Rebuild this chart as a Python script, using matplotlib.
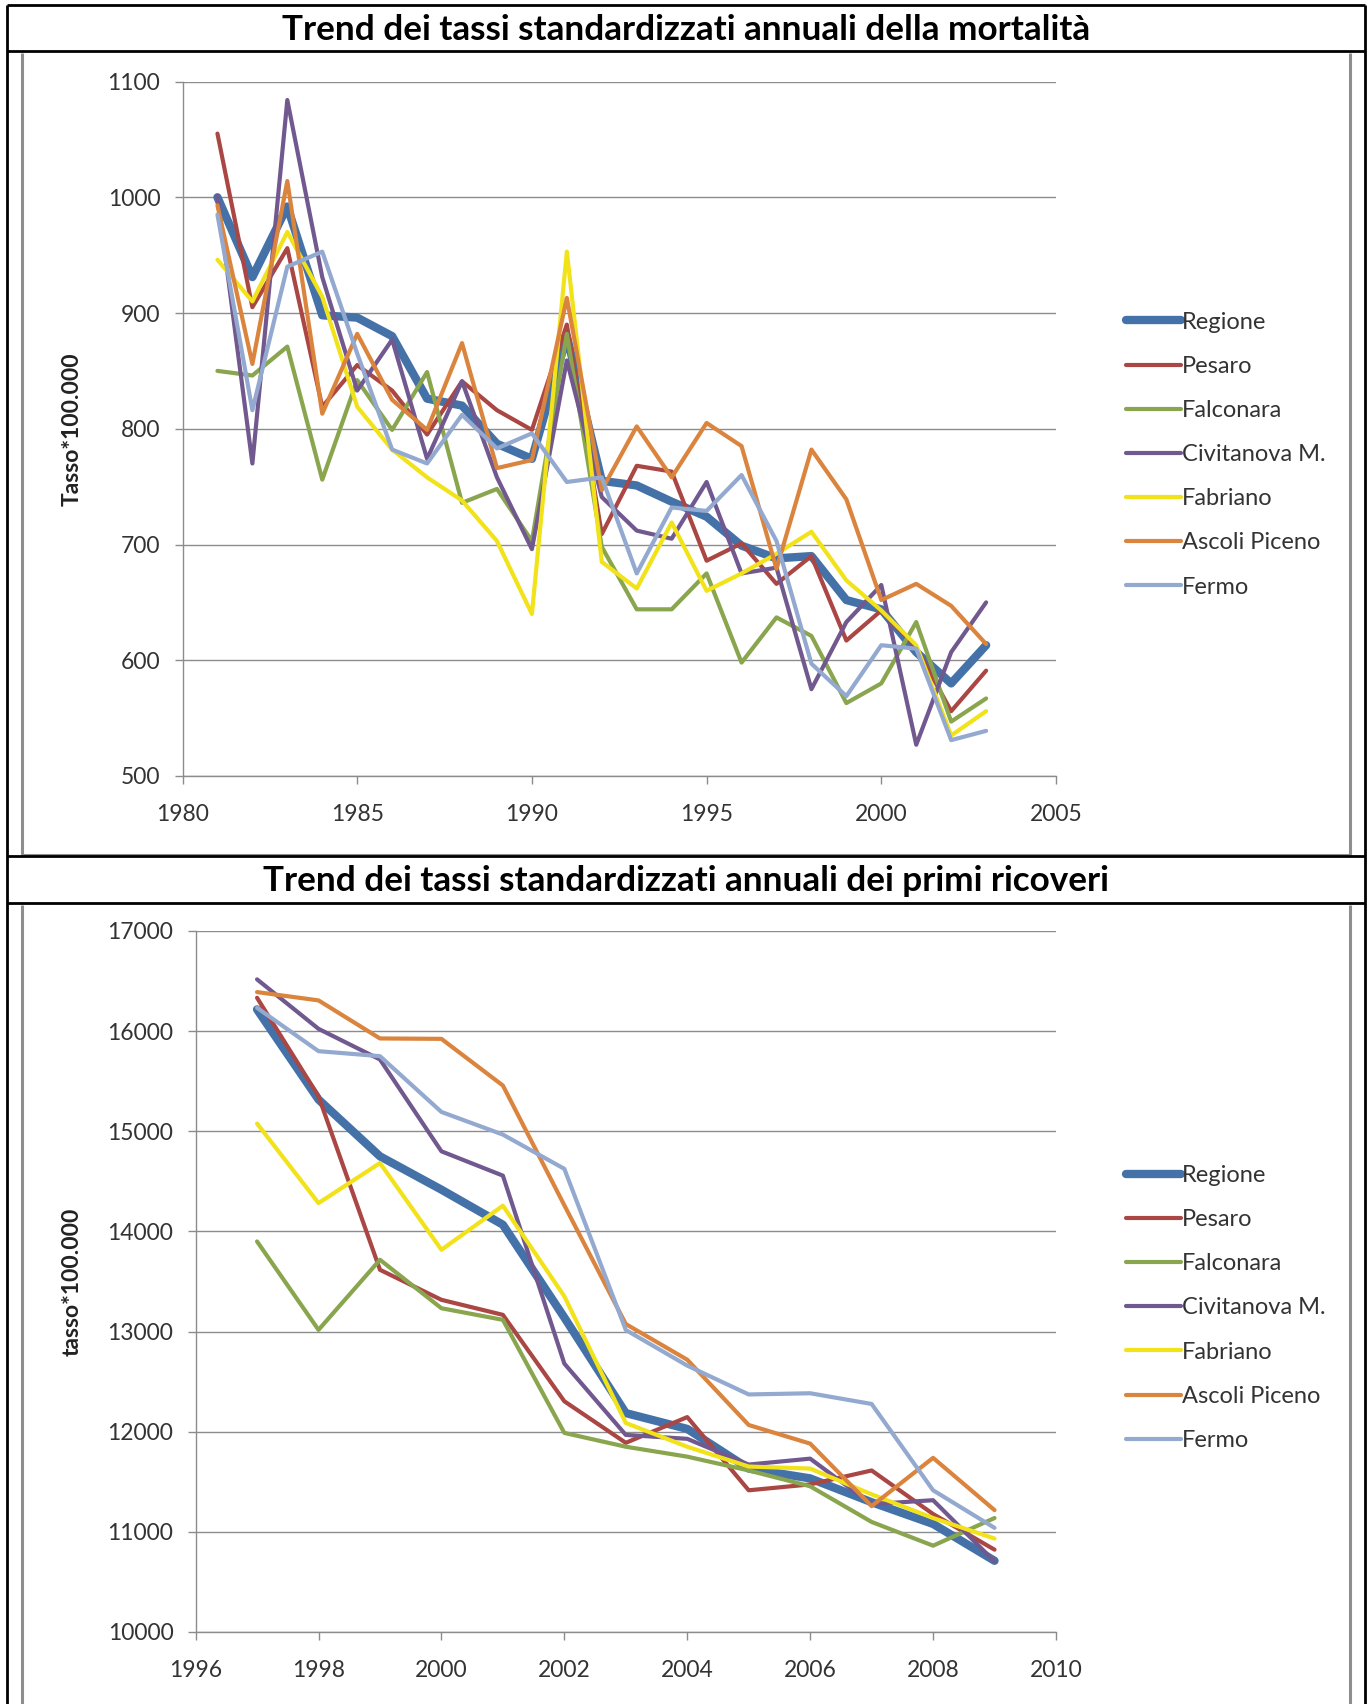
import matplotlib.pyplot as plt
from matplotlib.lines import Line2D

plt.rcParams['font.family'] = ['Lato', 'DejaVu Sans']

# serie mortalità (1981-2003)
anni_mort = list(range(1981, 2004))
regione_m = [1000, 931, 992, 898, 896, 880, 826, 820, 787, 774, 880, 755, 751, 737, 724, 699, 688, 690, 652, 644, 607, 580, 613]
pesaro_m = [1055, 905, 956, 819, 855, 833, 795, 841, 816, 799, 890, 709, 768, 763, 686, 701, 666, 690, 617, 643, 611, 556, 591]
falconara_m = [850, 846, 871, 756, 842, 799, 849, 736, 748, 703, 882, 698, 644, 644, 675, 598, 637, 621, 563, 580, 633, 547, 567]
civitanova_m = [1001, 770, 1084, 931, 833, 877, 774, 841, 758, 696, 859, 741, 712, 705, 754, 675, 680, 575, 633, 665, 527, 607, 650]
fabriano_m = [946, 910, 970, 914, 819, 782, 758, 738, 703, 640, 953, 685, 662, 719, 660, 675, 692, 711, 669, 643, 613, 535, 556]
ascoli_m = [993, 856, 1014, 813, 882, 825, 799, 874, 766, 773, 913, 747, 802, 758, 805, 785, 679, 782, 739, 652, 666, 647, 614]
fermo_m = [985, 816, 940, 953, 865, 782, 770, 812, 783, 796, 754, 758, 675, 732, 729, 760, 703, 597, 569, 613, 610, 531, 539]

# serie primi ricoveri (1997-2009)
anni_ric = list(range(1997, 2010))
regione_r = [16217, 15317, 14750, 14417, 14067, 13140, 12186, 12028, 11632, 11534, 11296, 11079, 10711]
pesaro_r = [16333, 15350, 13617, 13317, 13167, 12304, 11889, 12146, 11415, 11474, 11613, 11178, 10822]
falconara_r = [13900, 13017, 13717, 13233, 13117, 11988, 11850, 11751, 11613, 11455, 11099, 10862, 11138]
civitanova_r = [16517, 16023, 15717, 14800, 14557, 12680, 11968, 11929, 11672, 11731, 11277, 11316, 10704]
fabriano_r = [15077, 14283, 14683, 13817, 14257, 13352, 12087, 11850, 11652, 11632, 11375, 11138, 10933]
ascoli_r = [16390, 16307, 15927, 15923, 15457, 14261, 13075, 12719, 12067, 11881, 11257, 11739, 11217]
fermo_r = [16233, 15800, 15750, 15193, 14967, 14625, 13016, 12660, 12372, 12384, 12277, 11415, 11040]

nomi = ['Regione', 'Pesaro', 'Falconara', 'Civitanova M.', 'Fabriano', 'Ascoli Piceno', 'Fermo']
colori = ['#4472A8', '#AA4643', '#89A54E', '#71588F', '#F2E21A', '#DB843D', '#93A9CF']
spessori = [6.0, 3.0, 3.0, 3.0, 3.0, 3.0, 3.0]

W, H = 1370, 1704
fig = plt.figure(figsize=(W / 100, H / 100), dpi=100)


def fx(x):
    return x / W


def fy(y):
    return 1 - y / H


def linea(x0, y0, x1, y1, colore, lw):
    fig.add_artist(Line2D([fx(x0), fx(x1)], [fy(y0), fy(y1)], transform=fig.transFigure,
                          color=colore, lw=lw, solid_capstyle='butt'))


# cornici grigie dei grafici
for top, bot in [(53, 855), (905, 1720)]:
    linea(22, top, 22, bot, '#8E8E8E', 2.2)
    linea(1350, top, 1350, bot, '#8E8E8E', 2.2)
    linea(22, bot, 1350, bot, '#8E8E8E', 2.2)

# bordi neri della tabella
linea(7, 5, 7, 1710, 'black', 2.0)
linea(1365, 5, 1365, 1710, 'black', 2.0)
for y in [5, 51, 856, 903]:
    linea(7, y, 1365, y, 'black', 2.0)

fig.text(fx(686), fy(30), 'Trend dei tassi standardizzati annuali della mortalità',
         ha='center', va='center', fontsize=25.3, fontweight='bold')
fig.text(fx(686), fy(881), 'Trend dei tassi standardizzati annuali dei primi ricoveri',
         ha='center', va='center', fontsize=25.3, fontweight='bold')


def grafico(ax, anni, serie, xlim, xstep, ylim, ystep, ylabel, leg_y, lab_x):
    for nome, valori, col, lw in zip(nomi, serie, colori, spessori):
        ax.plot(anni, valori, color=col, lw=lw, label=nome,
                solid_capstyle='round', solid_joinstyle='round')
    ax.set_xlim(*xlim)
    ax.set_ylim(*ylim)
    ax.set_xticks(range(xlim[0], xlim[1] + 1, xstep))
    ax.set_yticks(range(ylim[0], ylim[1] + 1, ystep))
    ax.grid(axis='y', color='#8C8C8C', lw=1.0)
    ax.set_axisbelow(True)
    for s in ['top', 'right']:
        ax.spines[s].set_visible(False)
    for s in ['left', 'bottom']:
        ax.spines[s].set_color('#8C8C8C')
        ax.spines[s].set_linewidth(1.0)
    ax.tick_params(axis='both', direction='out', length=6, width=1.0, color='#8C8C8C',
                   labelsize=16.5, labelcolor='#333333')
    ax.tick_params(axis='x', pad=14)
    ax.tick_params(axis='y', pad=10)
    ax.set_ylabel(ylabel, fontsize=16.5, fontweight='bold', color='#222222')
    ax.yaxis.set_label_coords(lab_x, 0.5)
    ax.legend(loc='center left', bbox_to_anchor=(fx(1114), fy(leg_y)), bbox_transform=fig.transFigure,
              frameon=False, borderpad=0, fontsize=17, handlelength=2.33, handletextpad=0.05,
              labelspacing=0.98, labelcolor='#333333')


ax1 = fig.add_axes([fx(182.5), fy(776), (1056 - 182.5) / W, (776 - 81.5) / H])
grafico(ax1, anni_mort,
        [regione_m, pesaro_m, falconara_m, civitanova_m, fabriano_m, ascoli_m, fermo_m],
        (1980, 2005), 5, (500, 1100), 100, 'Tasso*100.000', 454.6, -0.114)

ax2 = fig.add_axes([fx(195.6), fy(1632), (1056 - 195.6) / W, (1632 - 931) / H])
grafico(ax2, anni_ric,
        [regione_r, pesaro_r, falconara_r, civitanova_r, fabriano_r, ascoli_r, fermo_r],
        (1996, 2010), 2, (10000, 17000), 1000, 'tasso*100.000', 1308, -0.131)

fig.savefig('out.png', dpi=100)
